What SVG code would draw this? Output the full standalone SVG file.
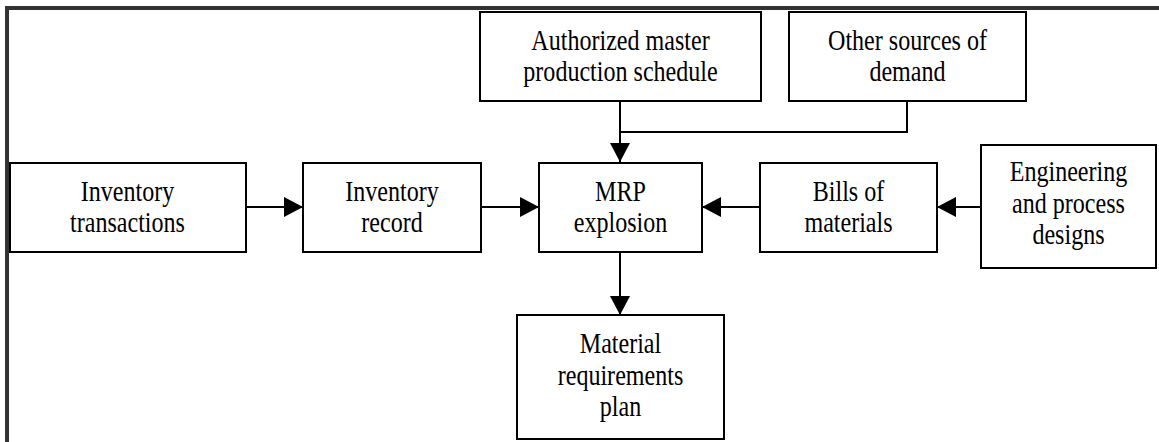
<svg xmlns="http://www.w3.org/2000/svg" width="1159" height="442" viewBox="0 0 1159 442">
<style>
.box{fill:#fff;stroke:#000;stroke-width:2}
.t{font-family:'Liberation Serif','Times New Roman',serif;font-size:29px;text-anchor:middle;fill:#000;transform-box:fill-box;transform-origin:center;transform:scaleX(0.83)}
.c{fill:none;stroke:#000;stroke-width:2}
</style>
<defs>
<marker id="ah" markerUnits="userSpaceOnUse" markerWidth="19" markerHeight="20" refX="19" refY="10" orient="auto" viewBox="0 0 19 20">
<path d="M0,0 L19,10 L0,20 Z" fill="#000"/>
</marker>
</defs>
<rect x="0" y="0" width="1159" height="442" fill="#fff"/>
<path d="M7,442 V8 H1159" fill="none" stroke="#333" stroke-width="4"/>
<g id="connectors">
<line class="c" x1="246" y1="207" x2="303" y2="207" marker-end="url(#ah)"/>
<line class="c" x1="481" y1="207" x2="539" y2="207" marker-end="url(#ah)"/>
<line class="c" x1="760" y1="207" x2="702" y2="207" marker-end="url(#ah)"/>
<line class="c" x1="981" y1="207" x2="937" y2="207" marker-end="url(#ah)"/>
<line class="c" x1="620" y1="101" x2="620" y2="162" marker-end="url(#ah)"/>
<polyline class="c" points="907,101 907,132 620,132"/>
<line class="c" x1="620" y1="252" x2="620" y2="315" marker-end="url(#ah)"/>
</g>
<g id="authorized">
<rect class="box" x="480" y="12" width="281" height="89"/>
<text class="t" x="620.5" y="50">Authorized master</text>
<text class="t" x="620.5" y="81.5">production schedule</text>
</g>
<g id="other">
<rect class="box" x="789" y="12" width="237" height="89"/>
<text class="t" x="907.5" y="50">Other sources of</text>
<text class="t" x="907.5" y="81.5">demand</text>
</g>
<g id="invtrans">
<rect class="box" x="10" y="163" width="236" height="89"/>
<text class="t" x="127.5" y="201.5">Inventory</text>
<text class="t" x="127.5" y="232.5">transactions</text>
</g>
<g id="invrec">
<rect class="box" x="303" y="163" width="178" height="89"/>
<text class="t" x="392" y="201.5">Inventory</text>
<text class="t" x="392" y="232.5">record</text>
</g>
<g id="mrp">
<rect class="box" x="539" y="163" width="163" height="89"/>
<text class="t" x="620.5" y="201.5">MRP</text>
<text class="t" x="620.5" y="232.5">explosion</text>
</g>
<g id="bom">
<rect class="box" x="760" y="163" width="177" height="89"/>
<text class="t" x="848.5" y="201.5">Bills of</text>
<text class="t" x="848.5" y="232.5">materials</text>
</g>
<g id="eng">
<rect class="box" x="981" y="145" width="175" height="123"/>
<text class="t" x="1068.5" y="181.5">Engineering</text>
<text class="t" x="1068.5" y="213">and process</text>
<text class="t" x="1068.5" y="244.5">designs</text>
</g>
<g id="plan">
<rect class="box" x="517" y="315" width="207" height="124"/>
<text class="t" x="620.5" y="353">Material</text>
<text class="t" x="620.5" y="385">requirements</text>
<text class="t" x="620.5" y="416">plan</text>
</g>
</svg>
